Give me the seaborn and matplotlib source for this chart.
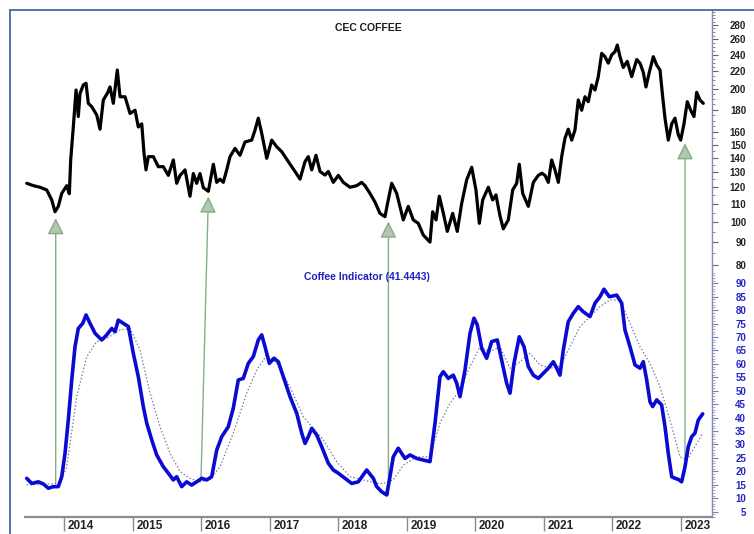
import numpy as np
import pandas as pd
import seaborn as sns
import matplotlib
matplotlib.use("Agg")
import matplotlib.pyplot as plt
import matplotlib.ticker as mticker
import matplotlib.transforms as mtransforms
from matplotlib.lines import Line2D

# price series (decimal years, CEC coffee price)
price_dates = [
    2013.451, 2013.548, 2013.645, 2013.743, 2013.816, 2013.864, 2013.912, 2013.962,
    2014.035, 2014.073, 2014.093, 2014.131, 2014.171, 2014.204, 2014.229, 2014.277,
    2014.317, 2014.350, 2014.400, 2014.473, 2014.521, 2014.569, 2014.628, 2014.667,
    2014.715, 2014.773, 2014.813, 2014.886, 2014.959, 2015.032, 2015.080, 2015.130,
    2015.163, 2015.192, 2015.226, 2015.299, 2015.372, 2015.445, 2015.518, 2015.591,
    2015.640, 2015.689, 2015.762, 2015.834, 2015.883, 2015.932, 2015.980, 2016.029,
    2016.102, 2016.175, 2016.224, 2016.272, 2016.320, 2016.370, 2016.418, 2016.491,
    2016.564, 2016.637, 2016.735, 2016.783, 2016.831, 2016.881, 2016.954, 2017.027,
    2017.100, 2017.173, 2017.269, 2017.367, 2017.440, 2017.513, 2017.561, 2017.611,
    2017.673, 2017.732, 2017.805, 2017.853, 2017.926, 2017.999, 2018.072, 2018.170,
    2018.267, 2018.340, 2018.388, 2018.461, 2018.534, 2018.607, 2018.680, 2018.714,
    2018.778, 2018.851, 2018.947, 2019.020, 2019.093, 2019.166, 2019.239, 2019.337,
    2019.376, 2019.425, 2019.473, 2019.531, 2019.590, 2019.668, 2019.735, 2019.800,
    2019.873, 2019.946, 2020.008, 2020.057, 2020.106, 2020.188, 2020.252, 2020.300,
    2020.359, 2020.407, 2020.480, 2020.544, 2020.602, 2020.640, 2020.690, 2020.772,
    2020.845, 2020.918, 2020.970, 2021.015, 2021.064, 2021.113, 2021.161, 2021.210,
    2021.259, 2021.307, 2021.355, 2021.405, 2021.453, 2021.501, 2021.551, 2021.599,
    2021.647, 2021.697, 2021.745, 2021.793, 2021.843, 2021.891, 2021.939, 2021.989,
    2022.037, 2022.071, 2022.110, 2022.158, 2022.216, 2022.281, 2022.354, 2022.402,
    2022.450, 2022.489, 2022.538, 2022.596, 2022.646, 2022.694, 2022.733, 2022.767,
    2022.815, 2022.865, 2022.913, 2022.961, 2022.996, 2023.044, 2023.092, 2023.142,
    2023.190, 2023.229, 2023.277, 2023.326,
]
price_values = [
    122.5, 121.0, 120.0, 118.3, 112.3, 105.6, 108.6, 116.2,
    121.0, 116.0, 138.4, 164.4, 199.4, 173.6, 195.8, 204.7,
    206.6, 186.0, 182.8, 175.0, 162.5, 189.3, 196.0, 202.6,
    186.0, 221.4, 192.5, 192.5, 176.4, 179.4, 164.4, 167.1,
    143.3, 131.4, 140.8, 140.8, 133.6, 133.6, 127.7, 138.4,
    122.5, 127.7, 131.4, 114.5, 128.9, 122.5, 128.9, 119.7,
    117.5, 135.3, 123.1, 125.2, 123.1, 131.4, 140.8, 147.0,
    141.8, 152.0, 153.5, 161.7, 172.1, 159.0, 139.6, 153.5,
    148.2, 144.5, 137.2, 130.3, 125.2, 137.2, 140.8, 131.4,
    141.8, 130.3, 127.9, 130.3, 123.1, 127.7, 123.1, 120.0,
    121.0, 123.1, 121.0, 116.2, 111.1, 104.7, 102.9, 109.6,
    122.5, 116.2, 101.2, 108.6, 101.2, 99.4, 93.5, 90.1,
    105.6, 101.2, 114.5, 104.9, 95.3, 104.7, 95.3, 110.4,
    124.8, 133.2, 118.3, 99.4, 112.3, 120.0, 112.3, 115.3,
    103.3, 96.6, 101.2, 118.3, 122.5, 135.3, 116.2, 108.6,
    123.1, 127.7, 129.1, 127.7, 123.1, 138.4, 131.4, 123.1,
    140.8, 155.0, 162.5, 153.5, 161.7, 189.3, 179.4, 192.5,
    187.6, 204.7, 199.4, 213.8, 241.5, 237.3, 229.4, 239.5,
    243.6, 252.2, 237.3, 224.3, 231.6, 213.8, 233.8, 229.4,
    218.7, 202.6, 218.7, 237.3, 227.1, 221.4, 192.5, 172.1,
    153.5, 167.1, 172.1, 157.9, 153.5, 167.1, 187.6, 179.4,
    173.6, 197.0, 189.3, 186.0,
]

# coffee indicator (blue) and its signal (dotted)
ind_dates = [
    2013.451, 2013.524, 2013.621, 2013.694, 2013.766, 2013.839, 2013.912, 2013.962,
    2014.010, 2014.058, 2014.108, 2014.156, 2014.204, 2014.269, 2014.317, 2014.375,
    2014.448, 2014.546, 2014.619, 2014.692, 2014.740, 2014.788, 2014.861, 2014.934,
    2015.007, 2015.080, 2015.153, 2015.203, 2015.276, 2015.348, 2015.445, 2015.518,
    2015.591, 2015.640, 2015.713, 2015.786, 2015.859, 2015.932, 2016.005, 2016.078,
    2016.151, 2016.224, 2016.297, 2016.393, 2016.466, 2016.539, 2016.612, 2016.685,
    2016.758, 2016.831, 2016.881, 2016.929, 2016.992, 2017.060, 2017.123, 2017.196,
    2017.294, 2017.392, 2017.465, 2017.513, 2017.561, 2017.611, 2017.684, 2017.756,
    2017.853, 2017.926, 2017.999, 2018.097, 2018.194, 2018.291, 2018.413, 2018.510,
    2018.559, 2018.632, 2018.705, 2018.753, 2018.801, 2018.874, 2018.972, 2019.045,
    2019.143, 2019.239, 2019.337, 2019.410, 2019.483, 2019.531, 2019.604, 2019.677,
    2019.727, 2019.775, 2019.848, 2019.921, 2019.979, 2020.027, 2020.092, 2020.164,
    2020.237, 2020.319, 2020.383, 2020.456, 2020.505, 2020.563, 2020.640, 2020.709,
    2020.772, 2020.845, 2020.918, 2020.991, 2021.064, 2021.137, 2021.186, 2021.234,
    2021.283, 2021.355, 2021.428, 2021.501, 2021.574, 2021.672, 2021.745, 2021.818,
    2021.876, 2021.954, 2022.062, 2022.135, 2022.183, 2022.256, 2022.329, 2022.402,
    2022.450, 2022.500, 2022.548, 2022.587, 2022.646, 2022.718, 2022.767, 2022.815,
    2022.865, 2022.913, 2022.961, 2023.010, 2023.059, 2023.107, 2023.156, 2023.204,
    2023.253, 2023.317,
]
ind_values = [
    17.4, 15.5, 16.1, 15.3, 13.7, 14.3, 14.3, 18.0,
    26.7, 39.1, 54.0, 66.4, 73.2, 75.1, 78.2, 75.1,
    71.4, 68.9, 70.8, 73.2, 72.0, 76.3, 75.1, 73.9,
    63.9, 55.2, 44.1, 37.9, 31.7, 26.1, 21.7, 19.3,
    16.8, 18.0, 14.3, 16.1, 14.9, 16.1, 17.4, 16.8,
    18.0, 27.9, 32.9, 36.6, 43.5, 54.0, 54.6, 60.2,
    62.7, 68.9, 70.8, 66.4, 60.2, 62.1, 60.8, 55.2,
    47.8, 41.6, 34.2, 30.4, 32.9, 36.0, 33.5, 29.2,
    23.0, 20.5, 19.3, 17.4, 15.5, 16.1, 20.5, 17.4,
    14.3, 12.4, 11.2, 18.0, 25.4, 28.6, 24.8, 26.1,
    24.8, 24.2, 23.6, 37.9, 55.2, 57.1, 54.6, 55.8,
    52.8, 47.8, 57.7, 71.4, 77.0, 74.5, 65.8, 62.1,
    68.3, 68.9, 61.4, 52.8, 49.1, 60.2, 70.1, 66.4,
    59.0, 55.8, 54.6, 56.5, 58.4, 60.8, 58.4, 55.8,
    65.2, 75.7, 78.8, 81.3, 79.4, 77.6, 82.6, 85.0,
    87.8, 85.0, 85.6, 82.6, 72.6, 66.4, 59.6, 58.4,
    60.8, 54.0, 45.9, 44.1, 46.6, 44.7, 36.6, 26.7,
    18.0, 17.4, 17.0, 16.1, 21.7, 29.2, 32.9, 34.2,
    39.1, 41.4,
]
sig_dates = [
    2013.451, 2013.700, 2013.937, 2014.035, 2014.181, 2014.327, 2014.473, 2014.619,
    2014.813, 2014.959, 2015.105, 2015.251, 2015.397, 2015.543, 2015.689, 2015.834,
    2015.980, 2016.126, 2016.272, 2016.466, 2016.662, 2016.808, 2016.954, 2017.100,
    2017.294, 2017.488, 2017.634, 2017.780, 2017.975, 2018.170, 2018.364, 2018.559,
    2018.655, 2018.801, 2018.947, 2019.143, 2019.337, 2019.483, 2019.629, 2019.775,
    2019.921, 2020.067, 2020.213, 2020.359, 2020.505, 2020.651, 2020.796, 2020.942,
    2021.088, 2021.234, 2021.380, 2021.526, 2021.672, 2021.818, 2021.964, 2022.110,
    2022.256, 2022.402, 2022.548, 2022.694, 2022.840, 2022.986, 2023.083, 2023.204,
    2023.317,
]
sig_values = [
    15.0, 15.2, 15.5, 21.7, 47.8, 62.7, 68.3, 69.5,
    72.6, 73.2, 65.2, 49.1, 36.6, 26.7, 19.9, 17.4,
    16.1, 17.0, 21.7, 34.2, 49.1, 57.7, 63.3, 60.2,
    51.5, 40.3, 36.0, 31.7, 23.6, 18.0, 16.8, 15.5,
    15.5, 16.8, 22.3, 25.4, 25.4, 37.9, 45.3, 50.3,
    59.0, 66.4, 64.5, 66.4, 58.4, 60.8, 63.9, 59.6,
    58.4, 59.0, 66.4, 73.9, 77.6, 81.3, 83.8, 83.8,
    75.1, 66.4, 60.2, 51.5, 39.1, 25.4, 24.2, 29.2,
    34.2,
]

# green arrows: indicator lows -> price lows
arrow_from_date = [2013.874, 2015.995, 2018.730, 2023.059]
arrow_from_ind = [15.7, 17.4, 11.2, 24.2]
arrow_to_date = [2013.874, 2016.102, 2018.730, 2023.059]
arrow_to_price = [102.1, 114.3, 100.3, 151.0]

year_ticks = list(range(2014, 2024))
price_ticks = [80, 90, 100, 110, 120, 130, 140, 150, 160, 180, 200, 220, 240, 260, 280]
ind_ticks = list(range(5, 95, 5))

price_df = pd.DataFrame({"date": price_dates, "price": price_values})
ind_df = pd.DataFrame({"date": ind_dates, "ind": ind_values})
sig_df = pd.DataFrame({"date": sig_dates, "sig": sig_values})

sns.set_style("white")
plt.rcParams["font.family"] = ["Liberation Sans", "DejaVu Sans"]

W, H = 754, 534
fig = plt.figure(figsize=(W / 100, H / 100), dpi=100)
fig.patch.set_facecolor("white")

x0, x1 = 25 / W, 712 / W
ax_top = fig.add_axes([x0, 1 - 270 / H, x1 - x0, 260 / H])
ax_bot = fig.add_axes([x0, 1 - 517 / H, x1 - x0, 247 / H], sharex=ax_top)
for ax in (ax_top, ax_bot):
    ax.patch.set_visible(False)

sns.lineplot(data=price_df, x="date", y="price", ax=ax_top, color="black",
             lw=2.3, estimator=None, sort=False)
sns.lineplot(data=sig_df, x="date", y="sig", ax=ax_bot, color="#7a7aa8",
             lw=0.9, ls=(0, (1.2, 1.6)), estimator=None, sort=False)
sns.lineplot(data=ind_df, x="date", y="ind", ax=ax_bot, color="#0a0ad2",
             lw=2.6, estimator=None, sort=False)

ax_top.set_yscale("log")
ax_top.set_ylim(77.9, 302.8)
ax_bot.set_ylim(3.0, 94.95)
ax_top.set_xlim(2013.426, 2023.453)

for ax in (ax_top, ax_bot):
    ax.set_xlabel("")
    ax.set_ylabel("")
    ax.yaxis.tick_right()
    for s in ("left", "top"):
        ax.spines[s].set_visible(False)
    ax.spines["right"].set_color("#8390a8")
    ax.spines["right"].set_linewidth(1.0)

ax_top.spines["bottom"].set_visible(False)
ax_top.tick_params(axis="x", bottom=False, labelbottom=False)
ax_bot.spines["bottom"].set_color("#8c8c8c")
ax_bot.spines["bottom"].set_linewidth(1.6)

# right price axis
ax_top.yaxis.set_major_locator(mticker.FixedLocator(price_ticks))
ax_top.yaxis.set_major_formatter(mticker.FixedFormatter([str(t) for t in price_ticks]))
ax_top.yaxis.set_minor_locator(mticker.FixedLocator(list(range(80, 305, 5))))
ax_top.yaxis.set_minor_formatter(mticker.NullFormatter())
ax_top.tick_params(axis="y", which="major", right=True, length=4.5, width=0.8,
                   color="#666666", pad=20, labelsize=7, labelcolor="#222222")
ax_top.tick_params(axis="y", which="minor", right=True, length=2.2, width=0.6,
                   color="#777777")

# right indicator axis
ax_bot.yaxis.set_major_locator(mticker.FixedLocator(ind_ticks))
ax_bot.yaxis.set_minor_locator(mticker.MultipleLocator(1))
ax_bot.tick_params(axis="y", which="major", right=True, length=4.5, width=0.8,
                   color="#7c7cc4", pad=20, labelsize=7, labelcolor="#2626c4")
ax_bot.tick_params(axis="y", which="minor", right=True, length=2.2, width=0.6,
                   color="#9a9ad0")

for ax in (ax_top, ax_bot):
    for lab in ax.get_yticklabels():
        lab.set_horizontalalignment("right")
        lab.set_fontweight("bold")

# year axis: tick then label to its right
ax_bot.set_xticks(year_ticks)
ax_bot.set_xticklabels([str(y) for y in year_ticks])
ax_bot.tick_params(axis="x", which="major", bottom=True, direction="out", length=10,
                   width=1.0, color="#8c8c8c", pad=-8, labelsize=8.5,
                   labelcolor="#222222")
offset = mtransforms.ScaledTranslation(2.5 / 72, 0, fig.dpi_scale_trans)
for lab in ax_bot.get_xticklabels():
    lab.set_horizontalalignment("left")
    lab.set_verticalalignment("top")
    lab.set_fontweight("bold")
    lab.set_family(["Liberation Sans Narrow", "Liberation Sans", "DejaVu Sans"])
    lab.set_transform(lab.get_transform() + offset)

# arrows from indicator lows up to price lows
for fd, fv, td, tv in zip(arrow_from_date, arrow_from_ind, arrow_to_date, arrow_to_price):
    ax_top.annotate("", xy=(td, tv), xycoords=ax_top.transData,
                    xytext=(fd, fv), textcoords=ax_bot.transData,
                    annotation_clip=False,
                    arrowprops=dict(arrowstyle="-|>,head_length=1.0,head_width=0.5",
                                    ec="#86ad86", fc="#b3c6af", lw=1.0,
                                    shrinkA=0, shrinkB=0))

fig.text(368 / W, 1 - 28 / H, "CEC COFFEE", ha="center", va="center",
         fontsize=7.5, fontweight="bold", color="#1a1a1a")
fig.text(367 / W, 1 - 277 / H, "Coffee Indicator (41.4443)", ha="center", va="center",
         fontsize=7.5, fontweight="bold", color="#2222c0")

# window frame lines
fig.add_artist(Line2D([10 / W, 10 / W], [0, 1 - 10 / H], transform=fig.transFigure,
                      color="#3a5c9c", lw=1.2))
fig.add_artist(Line2D([10 / W, 1], [1 - 10 / H, 1 - 10 / H], transform=fig.transFigure,
                      color="#3a5c9c", lw=1.2))

fig.savefig("out.png", dpi=100)
